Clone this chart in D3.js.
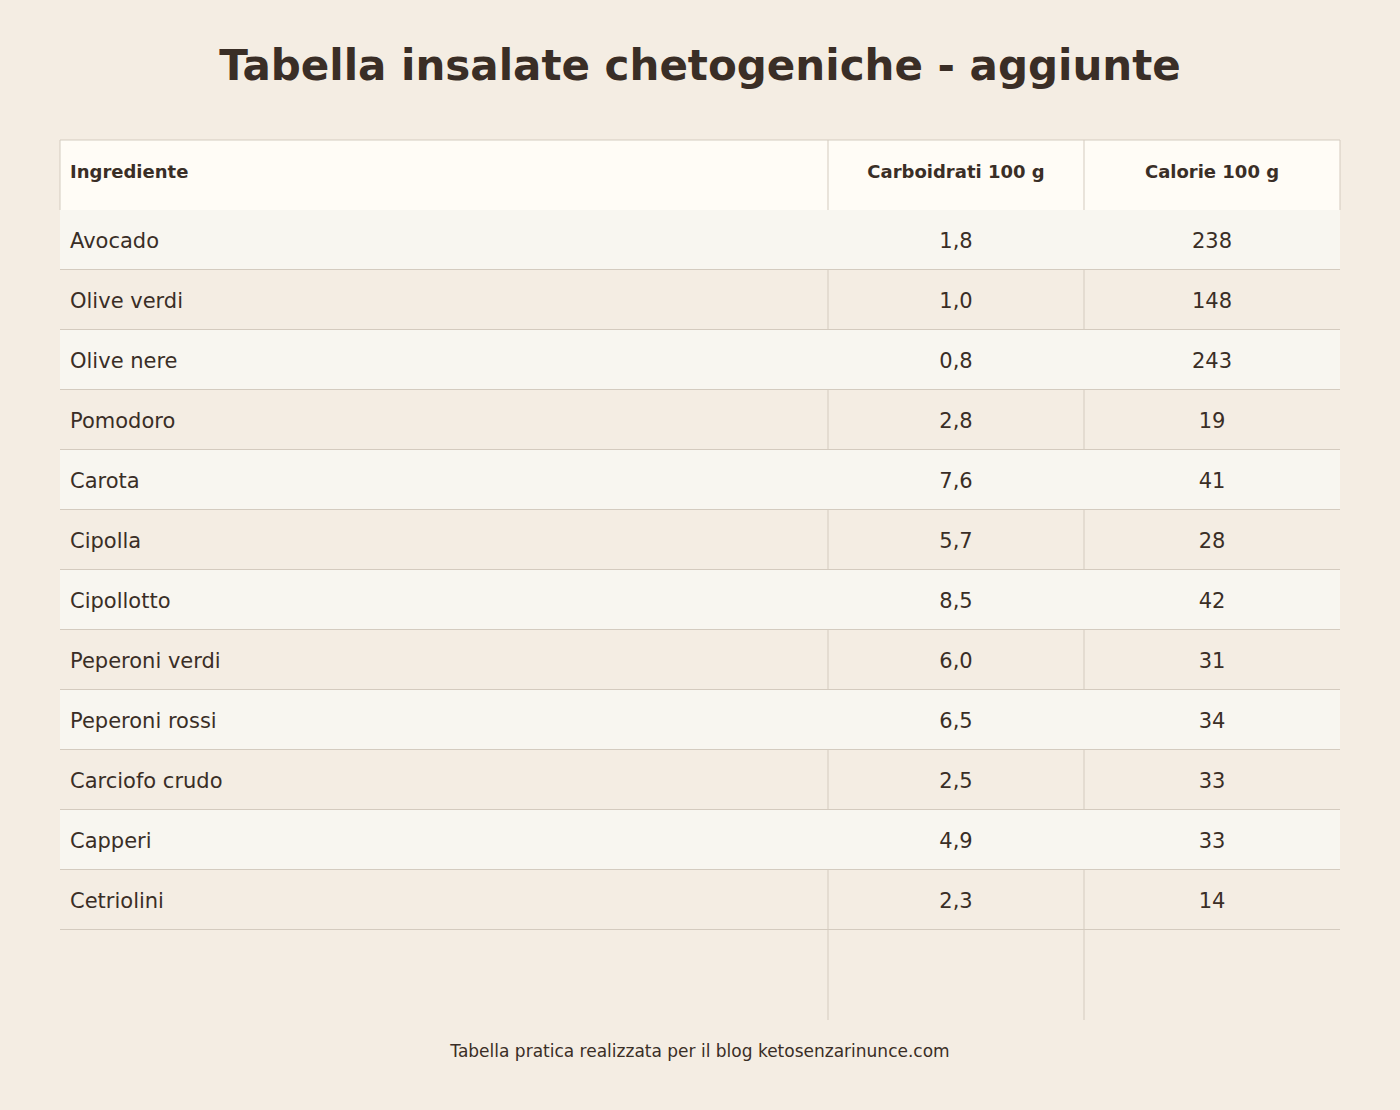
<!DOCTYPE html>
<html lang="en">
<head>
<meta charset="UTF-8" />
<title>Tabella insalate chetogeniche</title>
<script src="https://d3js.org/d3.v7.min.js"></script>
<style>
  body { margin: 0; background: #f4ede3; }
  text { font-family: "DejaVu Sans", sans-serif; fill: #3a2e26; }
</style>
</head>
<body>
<svg id="chart" width="1400" height="1110"></svg>
<script>
// data
var columns = ["Ingrediente", "Carboidrati 100 g", "Calorie 100 g"];
var ingredients = ["Avocado", "Olive verdi", "Olive nere", "Pomodoro", "Carota", "Cipolla",
  "Cipollotto", "Peperoni verdi", "Peperoni rossi", "Carciofo crudo", "Capperi", "Cetriolini"];
var carbs = ["1,8", "1,0", "0,8", "2,8", "7,6", "5,7", "8,5", "6,0", "6,5", "2,5", "4,9", "2,3"];
var calories = [238, 148, 243, 19, 41, 28, 42, 31, 34, 33, 33, 14];

var svg = d3.select("#chart");
var left = 60, right = 1340, headTop = 140, headH = 70, rowH = 60;
var colEdges = [left, 828, 1084, right];
var line = "#d4cbbf";

svg.append("text").attr("x", 700).attr("y", 80).attr("text-anchor", "middle")
  .style("font-size", "42px").style("font-weight", "bold")
  .text("Tabella insalate chetogeniche - aggiunte");

var y = d3.scaleBand().domain(d3.range(ingredients.length))
  .range([headTop + headH, headTop + headH + rowH * ingredients.length]);
var bottom = headTop + headH + rowH * ingredients.length;

// header
svg.append("rect").attr("x", left).attr("y", headTop).attr("width", right - left).attr("height", headH)
  .attr("fill", "#fffcf6");
svg.append("path").attr("fill", "none").attr("stroke", line)
  .attr("d", "M" + left + "," + (headTop + headH) + "V" + headTop + "H" + right + "V" + (headTop + headH));

// vertical dividers, under the rows
colEdges.slice(1, 3).forEach(function(x) {
  svg.append("line").attr("x1", x).attr("x2", x).attr("y1", headTop).attr("y2", bottom + 90)
    .attr("stroke", line);
});

columns.forEach(function(c, i) {
  var cx = i === 0 ? left + 10 : (colEdges[i] + colEdges[i + 1]) / 2;
  svg.append("text").attr("x", cx).attr("y", headTop + 38)
    .attr("text-anchor", i === 0 ? "start" : "middle")
    .style("font-size", "18px").style("font-weight", "bold").text(c);
});

var rows = svg.selectAll("g.row").data(ingredients).join("g").attr("class", "row")
  .attr("transform", function(d, i) { return "translate(0," + y(i) + ")"; });

rows.filter(function(d, i) { return i % 2 === 0; }).append("rect")
  .attr("x", left).attr("width", right - left).attr("height", rowH).attr("fill", "#f8f6f0");
rows.append("line").attr("x1", left).attr("x2", right).attr("y1", rowH - 0.5).attr("y2", rowH - 0.5)
  .attr("stroke", line);

rows.append("text").attr("x", left + 10).attr("y", 38).style("font-size", "21px")
  .text(function(d) { return d; });
rows.append("text").attr("x", (colEdges[1] + colEdges[2]) / 2).attr("y", 38)
  .attr("text-anchor", "middle").style("font-size", "21px")
  .text(function(d, i) { return carbs[i]; });
rows.append("text").attr("x", (colEdges[2] + colEdges[3]) / 2).attr("y", 38)
  .attr("text-anchor", "middle").style("font-size", "21px")
  .text(function(d, i) { return calories[i]; });

svg.append("text").attr("x", 700).attr("y", 1057).attr("text-anchor", "middle")
  .style("font-size", "17px")
  .text("Tabella pratica realizzata per il blog ketosenzarinunce.com");
</script>
</body>
</html>
